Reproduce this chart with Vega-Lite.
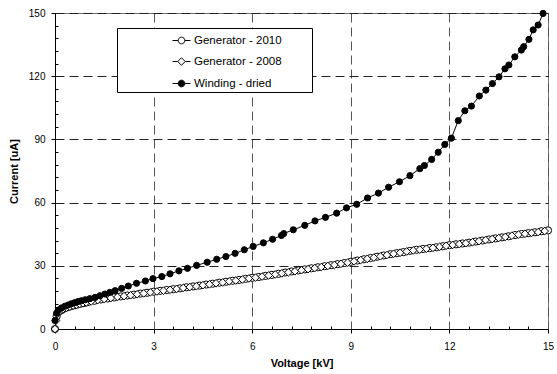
{
  "$schema": "https://vega.github.io/schema/vega-lite/v6.json",
  "width": 493,
  "height": 316,
  "autosize": "none",
  "padding": {"left": 55, "top": 13, "right": 9, "bottom": 45},
  "background": "white",
  "config": {
    "view": {"stroke": "#777", "strokeWidth": 1},
    "font": "Liberation Sans",
    "axis": {
      "labelFont": "Liberation Sans",
      "labelFontSize": 10,
      "labelColor": "black",
      "titleFont": "Liberation Sans",
      "titleFontSize": 11,
      "titleFontWeight": "bold",
      "titleColor": "black",
      "domainColor": "black",
      "tickColor": "black"
    }
  },
  "datasets": {
    "d": [
      {"series": "Generator - 2010", "voltage": 0, "current": 0},
      {"series": "Generator - 2010", "voltage": 0.05, "current": 6.0},
      {"series": "Generator - 2010", "voltage": 0.1, "current": 8.0},
      {"series": "Generator - 2010", "voltage": 0.2, "current": 9.0},
      {"series": "Generator - 2010", "voltage": 0.3, "current": 9.8},
      {"series": "Generator - 2010", "voltage": 0.4, "current": 10.4},
      {"series": "Generator - 2010", "voltage": 0.5, "current": 10.9},
      {"series": "Generator - 2010", "voltage": 0.6, "current": 11.3},
      {"series": "Generator - 2010", "voltage": 0.7, "current": 11.7},
      {"series": "Generator - 2010", "voltage": 0.8, "current": 12.1},
      {"series": "Generator - 2010", "voltage": 0.9, "current": 12.4},
      {"series": "Generator - 2010", "voltage": 1.0, "current": 12.8},
      {"series": "Generator - 2010", "voltage": 1.2, "current": 13.4},
      {"series": "Generator - 2010", "voltage": 1.4, "current": 14.0},
      {"series": "Generator - 2010", "voltage": 1.6, "current": 14.5},
      {"series": "Generator - 2010", "voltage": 1.8, "current": 15.0},
      {"series": "Generator - 2010", "voltage": 2.0, "current": 15.5},
      {"series": "Generator - 2010", "voltage": 2.2, "current": 15.9},
      {"series": "Generator - 2010", "voltage": 2.4, "current": 16.3},
      {"series": "Generator - 2010", "voltage": 2.6, "current": 16.8},
      {"series": "Generator - 2010", "voltage": 2.8, "current": 17.2},
      {"series": "Generator - 2010", "voltage": 3.0, "current": 17.7},
      {"series": "Generator - 2010", "voltage": 3.2, "current": 18.1},
      {"series": "Generator - 2010", "voltage": 3.4, "current": 18.5},
      {"series": "Generator - 2010", "voltage": 3.6, "current": 18.9},
      {"series": "Generator - 2010", "voltage": 3.8, "current": 19.3},
      {"series": "Generator - 2010", "voltage": 4.0, "current": 19.8},
      {"series": "Generator - 2010", "voltage": 4.2, "current": 20.2},
      {"series": "Generator - 2010", "voltage": 4.4, "current": 20.6},
      {"series": "Generator - 2010", "voltage": 4.6, "current": 21.1},
      {"series": "Generator - 2010", "voltage": 4.8, "current": 21.5},
      {"series": "Generator - 2010", "voltage": 5.0, "current": 22.0},
      {"series": "Generator - 2010", "voltage": 5.2, "current": 22.4},
      {"series": "Generator - 2010", "voltage": 5.4, "current": 22.9},
      {"series": "Generator - 2010", "voltage": 5.6, "current": 23.3},
      {"series": "Generator - 2010", "voltage": 5.8, "current": 23.8},
      {"series": "Generator - 2010", "voltage": 6.0, "current": 24.3},
      {"series": "Generator - 2010", "voltage": 6.2, "current": 24.7},
      {"series": "Generator - 2010", "voltage": 6.4, "current": 25.2},
      {"series": "Generator - 2010", "voltage": 6.6, "current": 25.7},
      {"series": "Generator - 2010", "voltage": 6.8, "current": 26.2},
      {"series": "Generator - 2010", "voltage": 7.0, "current": 26.8},
      {"series": "Generator - 2010", "voltage": 7.2, "current": 27.3},
      {"series": "Generator - 2010", "voltage": 7.4, "current": 27.8},
      {"series": "Generator - 2010", "voltage": 7.6, "current": 28.3},
      {"series": "Generator - 2010", "voltage": 7.8, "current": 28.8},
      {"series": "Generator - 2010", "voltage": 8.0, "current": 29.3},
      {"series": "Generator - 2010", "voltage": 8.2, "current": 29.8},
      {"series": "Generator - 2010", "voltage": 8.4, "current": 30.3},
      {"series": "Generator - 2010", "voltage": 8.6, "current": 30.8},
      {"series": "Generator - 2010", "voltage": 8.8, "current": 31.3},
      {"series": "Generator - 2010", "voltage": 9.0, "current": 31.9},
      {"series": "Generator - 2010", "voltage": 9.2, "current": 32.5},
      {"series": "Generator - 2010", "voltage": 9.4, "current": 33.1},
      {"series": "Generator - 2010", "voltage": 9.6, "current": 33.7},
      {"series": "Generator - 2010", "voltage": 9.8, "current": 34.3},
      {"series": "Generator - 2010", "voltage": 10.0, "current": 34.9},
      {"series": "Generator - 2010", "voltage": 10.2, "current": 35.5},
      {"series": "Generator - 2010", "voltage": 10.4, "current": 36.0},
      {"series": "Generator - 2010", "voltage": 10.6, "current": 36.5},
      {"series": "Generator - 2010", "voltage": 10.8, "current": 37.1},
      {"series": "Generator - 2010", "voltage": 11.0, "current": 37.6},
      {"series": "Generator - 2010", "voltage": 11.2, "current": 38.0},
      {"series": "Generator - 2010", "voltage": 11.4, "current": 38.4},
      {"series": "Generator - 2010", "voltage": 11.6, "current": 38.8},
      {"series": "Generator - 2010", "voltage": 11.8, "current": 39.3},
      {"series": "Generator - 2010", "voltage": 12.0, "current": 39.8},
      {"series": "Generator - 2010", "voltage": 12.2, "current": 40.2},
      {"series": "Generator - 2010", "voltage": 12.4, "current": 40.6},
      {"series": "Generator - 2010", "voltage": 12.6, "current": 41.0},
      {"series": "Generator - 2010", "voltage": 12.8, "current": 41.5},
      {"series": "Generator - 2010", "voltage": 13.0, "current": 42.0},
      {"series": "Generator - 2010", "voltage": 13.2, "current": 42.5},
      {"series": "Generator - 2010", "voltage": 13.4, "current": 43.0},
      {"series": "Generator - 2010", "voltage": 13.6, "current": 43.5},
      {"series": "Generator - 2010", "voltage": 13.8, "current": 44.0},
      {"series": "Generator - 2010", "voltage": 14.0, "current": 44.6},
      {"series": "Generator - 2010", "voltage": 14.2, "current": 45.1},
      {"series": "Generator - 2010", "voltage": 14.4, "current": 45.5},
      {"series": "Generator - 2010", "voltage": 14.6, "current": 45.9},
      {"series": "Generator - 2010", "voltage": 14.8, "current": 46.4},
      {"series": "Generator - 2010", "voltage": 15.0, "current": 46.8},

      {"series": "Generator - 2008", "voltage": 0, "current": 0},
      {"series": "Generator - 2008", "voltage": 0.03, "current": 4.0},
      {"series": "Generator - 2008", "voltage": 0.08, "current": 7.2},
      {"series": "Generator - 2008", "voltage": 0.15, "current": 8.6},
      {"series": "Generator - 2008", "voltage": 0.25, "current": 9.5},
      {"series": "Generator - 2008", "voltage": 0.35, "current": 10.1},
      {"series": "Generator - 2008", "voltage": 0.45, "current": 10.6},
      {"series": "Generator - 2008", "voltage": 0.55, "current": 11.1},
      {"series": "Generator - 2008", "voltage": 0.65, "current": 11.5},
      {"series": "Generator - 2008", "voltage": 0.75, "current": 11.9},
      {"series": "Generator - 2008", "voltage": 0.85, "current": 12.2},
      {"series": "Generator - 2008", "voltage": 0.95, "current": 12.6},
      {"series": "Generator - 2008", "voltage": 1.1, "current": 13.1},
      {"series": "Generator - 2008", "voltage": 1.3, "current": 13.7},
      {"series": "Generator - 2008", "voltage": 1.5, "current": 14.2},
      {"series": "Generator - 2008", "voltage": 1.7, "current": 14.7},
      {"series": "Generator - 2008", "voltage": 1.9, "current": 15.2},
      {"series": "Generator - 2008", "voltage": 2.1, "current": 15.6},
      {"series": "Generator - 2008", "voltage": 2.3, "current": 16.0},
      {"series": "Generator - 2008", "voltage": 2.5, "current": 16.5},
      {"series": "Generator - 2008", "voltage": 2.7, "current": 16.9},
      {"series": "Generator - 2008", "voltage": 2.9, "current": 17.4},
      {"series": "Generator - 2008", "voltage": 3.1, "current": 17.8},
      {"series": "Generator - 2008", "voltage": 3.3, "current": 18.2},
      {"series": "Generator - 2008", "voltage": 3.5, "current": 18.6},
      {"series": "Generator - 2008", "voltage": 3.7, "current": 19.0},
      {"series": "Generator - 2008", "voltage": 3.9, "current": 19.5},
      {"series": "Generator - 2008", "voltage": 4.1, "current": 19.9},
      {"series": "Generator - 2008", "voltage": 4.3, "current": 20.3},
      {"series": "Generator - 2008", "voltage": 4.5, "current": 20.8},
      {"series": "Generator - 2008", "voltage": 4.7, "current": 21.2},
      {"series": "Generator - 2008", "voltage": 4.9, "current": 21.7},
      {"series": "Generator - 2008", "voltage": 5.1, "current": 22.1},
      {"series": "Generator - 2008", "voltage": 5.3, "current": 22.6},
      {"series": "Generator - 2008", "voltage": 5.5, "current": 23.0},
      {"series": "Generator - 2008", "voltage": 5.7, "current": 23.5},
      {"series": "Generator - 2008", "voltage": 5.9, "current": 24.0},
      {"series": "Generator - 2008", "voltage": 6.1, "current": 24.4},
      {"series": "Generator - 2008", "voltage": 6.3, "current": 24.9},
      {"series": "Generator - 2008", "voltage": 6.5, "current": 25.4},
      {"series": "Generator - 2008", "voltage": 6.7, "current": 25.9},
      {"series": "Generator - 2008", "voltage": 6.9, "current": 26.4},
      {"series": "Generator - 2008", "voltage": 7.1, "current": 26.9},
      {"series": "Generator - 2008", "voltage": 7.3, "current": 27.4},
      {"series": "Generator - 2008", "voltage": 7.5, "current": 27.9},
      {"series": "Generator - 2008", "voltage": 7.7, "current": 28.4},
      {"series": "Generator - 2008", "voltage": 7.9, "current": 28.9},
      {"series": "Generator - 2008", "voltage": 8.1, "current": 29.4},
      {"series": "Generator - 2008", "voltage": 8.3, "current": 29.9},
      {"series": "Generator - 2008", "voltage": 8.5, "current": 30.4},
      {"series": "Generator - 2008", "voltage": 8.7, "current": 30.9},
      {"series": "Generator - 2008", "voltage": 8.9, "current": 31.5},
      {"series": "Generator - 2008", "voltage": 9.1, "current": 32.1},
      {"series": "Generator - 2008", "voltage": 9.3, "current": 32.7},
      {"series": "Generator - 2008", "voltage": 9.5, "current": 33.3},
      {"series": "Generator - 2008", "voltage": 9.7, "current": 33.9},
      {"series": "Generator - 2008", "voltage": 9.9, "current": 34.5},
      {"series": "Generator - 2008", "voltage": 10.1, "current": 35.1},
      {"series": "Generator - 2008", "voltage": 10.3, "current": 35.7},
      {"series": "Generator - 2008", "voltage": 10.5, "current": 36.2},
      {"series": "Generator - 2008", "voltage": 10.7, "current": 36.8},
      {"series": "Generator - 2008", "voltage": 10.9, "current": 37.3},
      {"series": "Generator - 2008", "voltage": 11.1, "current": 37.7},
      {"series": "Generator - 2008", "voltage": 11.3, "current": 38.1},
      {"series": "Generator - 2008", "voltage": 11.5, "current": 38.5},
      {"series": "Generator - 2008", "voltage": 11.7, "current": 39.0},
      {"series": "Generator - 2008", "voltage": 11.9, "current": 39.5},
      {"series": "Generator - 2008", "voltage": 12.1, "current": 39.9},
      {"series": "Generator - 2008", "voltage": 12.3, "current": 40.3},
      {"series": "Generator - 2008", "voltage": 12.5, "current": 40.7},
      {"series": "Generator - 2008", "voltage": 12.7, "current": 41.2},
      {"series": "Generator - 2008", "voltage": 12.9, "current": 41.7},
      {"series": "Generator - 2008", "voltage": 13.1, "current": 42.2},
      {"series": "Generator - 2008", "voltage": 13.3, "current": 42.7},
      {"series": "Generator - 2008", "voltage": 13.5, "current": 43.2},
      {"series": "Generator - 2008", "voltage": 13.7, "current": 43.7},
      {"series": "Generator - 2008", "voltage": 13.9, "current": 44.3},
      {"series": "Generator - 2008", "voltage": 14.1, "current": 44.8},
      {"series": "Generator - 2008", "voltage": 14.3, "current": 45.2},
      {"series": "Generator - 2008", "voltage": 14.5, "current": 45.6},
      {"series": "Generator - 2008", "voltage": 14.7, "current": 46.0},
      {"series": "Generator - 2008", "voltage": 14.9, "current": 46.5},

      {"series": "Winding - dried", "voltage": 0, "current": 4.0},
      {"series": "Winding - dried", "voltage": 0.05, "current": 7.5},
      {"series": "Winding - dried", "voltage": 0.1, "current": 9.0},
      {"series": "Winding - dried", "voltage": 0.2, "current": 10.0},
      {"series": "Winding - dried", "voltage": 0.3, "current": 10.8},
      {"series": "Winding - dried", "voltage": 0.4, "current": 11.4},
      {"series": "Winding - dried", "voltage": 0.5, "current": 12.0},
      {"series": "Winding - dried", "voltage": 0.6, "current": 12.5},
      {"series": "Winding - dried", "voltage": 0.7, "current": 13.0},
      {"series": "Winding - dried", "voltage": 0.8, "current": 13.4},
      {"series": "Winding - dried", "voltage": 0.92, "current": 13.9},
      {"series": "Winding - dried", "voltage": 1.06, "current": 14.4},
      {"series": "Winding - dried", "voltage": 1.22, "current": 15.0},
      {"series": "Winding - dried", "voltage": 1.37, "current": 15.8},
      {"series": "Winding - dried", "voltage": 1.52, "current": 16.6},
      {"series": "Winding - dried", "voltage": 1.67, "current": 17.4},
      {"series": "Winding - dried", "voltage": 1.83, "current": 18.2},
      {"series": "Winding - dried", "voltage": 2.03, "current": 19.3},
      {"series": "Winding - dried", "voltage": 2.23, "current": 20.4},
      {"series": "Winding - dried", "voltage": 2.48, "current": 21.7},
      {"series": "Winding - dried", "voltage": 2.75, "current": 22.8},
      {"series": "Winding - dried", "voltage": 2.98, "current": 23.9},
      {"series": "Winding - dried", "voltage": 3.25, "current": 24.9},
      {"series": "Winding - dried", "voltage": 3.5, "current": 26.2},
      {"series": "Winding - dried", "voltage": 3.77, "current": 27.6},
      {"series": "Winding - dried", "voltage": 4.03, "current": 28.8},
      {"series": "Winding - dried", "voltage": 4.31, "current": 30.2},
      {"series": "Winding - dried", "voltage": 4.63, "current": 31.7},
      {"series": "Winding - dried", "voltage": 4.92, "current": 33.1},
      {"series": "Winding - dried", "voltage": 5.2, "current": 34.4},
      {"series": "Winding - dried", "voltage": 5.48, "current": 35.9},
      {"series": "Winding - dried", "voltage": 5.76, "current": 37.6},
      {"series": "Winding - dried", "voltage": 6.03, "current": 39.2},
      {"series": "Winding - dried", "voltage": 6.34, "current": 40.9},
      {"series": "Winding - dried", "voltage": 6.62, "current": 42.6},
      {"series": "Winding - dried", "voltage": 6.89, "current": 44.4},
      {"series": "Winding - dried", "voltage": 6.96, "current": 45.3},
      {"series": "Winding - dried", "voltage": 7.25, "current": 47.1},
      {"series": "Winding - dried", "voltage": 7.6, "current": 49.2},
      {"series": "Winding - dried", "voltage": 7.91, "current": 51.3},
      {"series": "Winding - dried", "voltage": 8.23, "current": 53.0},
      {"series": "Winding - dried", "voltage": 8.57, "current": 55.0},
      {"series": "Winding - dried", "voltage": 8.87, "current": 57.5},
      {"series": "Winding - dried", "voltage": 9.18, "current": 59.2},
      {"series": "Winding - dried", "voltage": 9.51, "current": 62.2},
      {"series": "Winding - dried", "voltage": 9.84, "current": 64.5},
      {"series": "Winding - dried", "voltage": 10.15, "current": 67.3},
      {"series": "Winding - dried", "voltage": 10.48, "current": 69.9},
      {"series": "Winding - dried", "voltage": 10.8, "current": 72.8},
      {"series": "Winding - dried", "voltage": 11.1, "current": 76.1},
      {"series": "Winding - dried", "voltage": 11.24, "current": 77.6},
      {"series": "Winding - dried", "voltage": 11.46, "current": 80.5},
      {"series": "Winding - dried", "voltage": 11.66, "current": 83.9},
      {"series": "Winding - dried", "voltage": 11.86, "current": 87.6},
      {"series": "Winding - dried", "voltage": 12.06, "current": 90.6},
      {"series": "Winding - dried", "voltage": 12.27, "current": 98.9},
      {"series": "Winding - dried", "voltage": 12.47, "current": 103.6},
      {"series": "Winding - dried", "voltage": 12.67, "current": 105.8},
      {"series": "Winding - dried", "voltage": 12.91, "current": 110.6},
      {"series": "Winding - dried", "voltage": 13.11, "current": 113.4},
      {"series": "Winding - dried", "voltage": 13.31, "current": 116.5},
      {"series": "Winding - dried", "voltage": 13.51, "current": 119.7},
      {"series": "Winding - dried", "voltage": 13.69, "current": 123.5},
      {"series": "Winding - dried", "voltage": 13.81, "current": 125.3},
      {"series": "Winding - dried", "voltage": 13.99, "current": 129.2},
      {"series": "Winding - dried", "voltage": 14.19, "current": 132.4},
      {"series": "Winding - dried", "voltage": 14.26, "current": 134.0},
      {"series": "Winding - dried", "voltage": 14.42, "current": 137.5},
      {"series": "Winding - dried", "voltage": 14.55, "current": 142.0},
      {"series": "Winding - dried", "voltage": 14.7, "current": 144.3},
      {"series": "Winding - dried", "voltage": 14.85, "current": 149.8}
    ]
  },
  "data": {"name": "d"},
  "encoding": {
    "x": {"field": "voltage", "type": "quantitative", "scale": {"domain": [0, 15], "nice": false}},
    "y": {"field": "current", "type": "quantitative", "scale": {"domain": [0, 150], "nice": false}}
  },
  "resolve": {"axis": {"x": "independent", "y": "independent"}},
  "layer": [
    {
      "mark": {"type": "line", "stroke": "black", "strokeWidth": 1},
      "encoding": {
        "detail": {"field": "series"},
        "x": {"field": "voltage", "type": "quantitative", "axis": {"orient": "bottom", "title": "Voltage [kV]", "values": [0, 3, 6, 9, 12, 15], "tickSize": 4, "labelPadding": 8, "titlePadding": 6, "grid": true, "gridColor": "#555", "gridDash": [9, 5], "gridWidth": 1, "labelFlush": false}},
        "y": {"field": "current", "type": "quantitative", "axis": {"orient": "left", "title": "Current [uA]", "values": [0, 30, 60, 90, 120, 150], "tickSize": 4, "labelPadding": 6, "titlePadding": 9, "grid": true, "gridColor": "#222", "gridDash": [9, 5], "gridWidth": 1, "labelFlush": false}}
      }
    },
    {
      "transform": [{"filter": "datum.series == 'Generator - 2010'"}],
      "mark": {"type": "point", "shape": "circle", "size": 52, "fill": "white", "stroke": "black", "strokeWidth": 1, "opacity": 1, "filled": false, "fillOpacity": 1},
      "encoding": {
        "x": {"field": "voltage", "type": "quantitative", "axis": {"orient": "bottom", "values": [0, 0.6, 1.2, 1.8, 2.4, 3.6, 4.2, 4.8, 5.4, 6.6, 7.2, 7.8, 8.4, 9.6, 10.2, 10.8, 11.4, 12.6, 13.2, 13.8, 14.4], "tickSize": -3, "labels": false, "domain": false, "grid": false, "title": null}},
        "y": {"field": "current", "type": "quantitative", "axis": {"orient": "left", "values": [6, 12, 18, 24, 36, 42, 48, 54, 66, 72, 78, 84, 96, 102, 108, 114, 126, 132, 138, 144], "tickSize": -3, "labels": false, "domain": false, "grid": false, "title": null}}
      }
    },
    {
      "transform": [{"filter": "datum.series == 'Generator - 2008'"}],
      "mark": {"type": "point", "shape": "diamond", "size": 58, "fill": "white", "stroke": "black", "strokeWidth": 1, "filled": false, "fillOpacity": 1},
      "encoding": {
        "x": {"field": "voltage", "type": "quantitative", "axis": null},
        "y": {"field": "current", "type": "quantitative", "axis": null}
      }
    },
    {
      "transform": [{"filter": "datum.series == 'Winding - dried'"}],
      "mark": {"type": "point", "shape": "circle", "size": 38, "fill": "black", "stroke": "black", "strokeWidth": 1, "filled": true, "fillOpacity": 1},
      "encoding": {
        "x": {"field": "voltage", "type": "quantitative", "axis": null},
        "y": {"field": "current", "type": "quantitative", "axis": null}
      }
    },
    {
      "mark": {"type": "point", "opacity": 0, "filled": true},
      "encoding": {
        "x": {"field": "voltage", "type": "quantitative", "axis": null},
        "y": {"field": "current", "type": "quantitative", "axis": null},
        "shape": {
          "field": "series", "type": "nominal",
          "scale": {
            "domain": ["Generator - 2010", "Generator - 2008", "Winding - dried"],
            "range": [
              "M-1,0L-0.37,0M0.37,0L1,0M0.37,0A0.37,0.37,0,1,1,-0.37,0A0.37,0.37,0,1,1,0.37,0Z",
              "M-1,0L-0.42,0M0.42,0L1,0M0,-0.42L0.42,0L0,0.42L-0.42,0Z",
              "M-1,0L-0.37,0M0.37,0L1,0M0.37,0A0.37,0.37,0,1,1,-0.37,0A0.37,0.37,0,1,1,0.37,0Z"
            ]
          },
          "legend": {
            "title": null,
            "orient": "none",
            "legendX": 62,
            "legendY": 15,
            "padding": 3,
            "fillColor": "white",
            "strokeColor": "black",
            "symbolSize": 324,
            "symbolStrokeColor": "black",
            "symbolStrokeWidth": 1,
            "symbolOffset": 52,
            "labelOffset": 3,
            "labelFont": "Liberation Sans",
            "labelFontSize": 11.5,
            "labelColor": "black",
            "rowPadding": 6,
            "labelExpr": "datum.label + '\u2800\u2800\u2800'",
            "encode": {"symbols": {"update": {"opacity": {"value": 1}, "fillOpacity": {"value": 1}, "strokeOpacity": {"value": 1}}}}
          }
        },
        "fill": {
          "field": "series", "type": "nominal",
          "scale": {"domain": ["Generator - 2010", "Generator - 2008", "Winding - dried"], "range": ["white", "white", "black"]},
          "legend": {
            "title": null,
            "orient": "none",
            "legendX": 62,
            "legendY": 15,
            "padding": 3,
            "fillColor": "white",
            "strokeColor": "black",
            "symbolSize": 324,
            "symbolStrokeColor": "black",
            "symbolStrokeWidth": 1,
            "symbolOffset": 52,
            "labelOffset": 3,
            "labelFont": "Liberation Sans",
            "labelFontSize": 11.5,
            "labelColor": "black",
            "rowPadding": 6,
            "labelExpr": "datum.label + '\u2800\u2800\u2800'",
            "encode": {"symbols": {"update": {"opacity": {"value": 1}, "fillOpacity": {"value": 1}, "strokeOpacity": {"value": 1}}}}
          }
        }
      }
    }
  ]
}
